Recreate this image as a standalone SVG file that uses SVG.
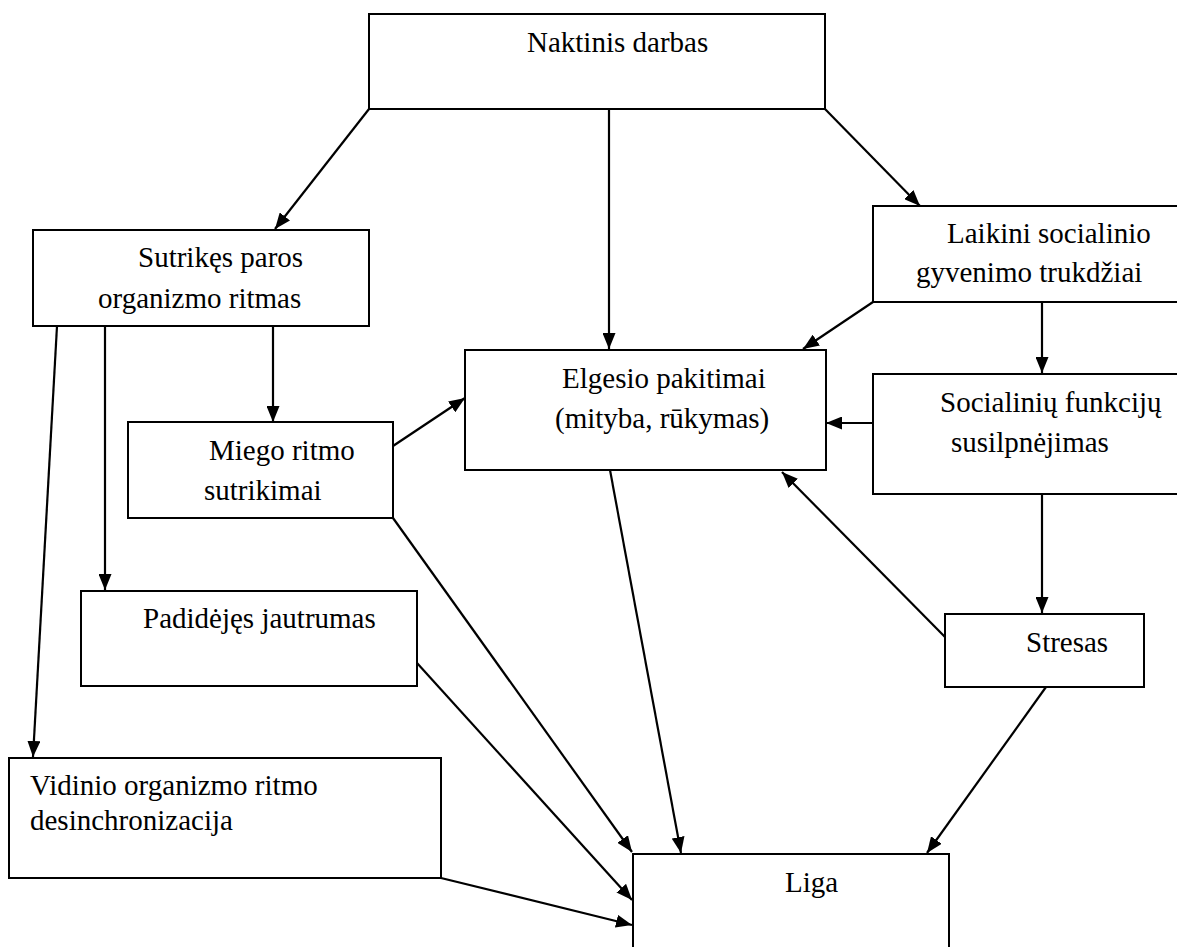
<svg xmlns="http://www.w3.org/2000/svg" width="1177" height="947" viewBox="0 0 1177 947">
<style>
.box{fill:#fff;stroke:#000;stroke-width:2}
.t{font-family:"Liberation Serif","Times New Roman",serif;font-size:29px;fill:#000}
.c{fill:none;stroke:#000;stroke-width:2.2}
</style>
<defs>
<marker id="ah" markerUnits="userSpaceOnUse" viewBox="0 0 16 13" markerWidth="16" markerHeight="13" refX="16" refY="6.5" orient="auto">
<path d="M0,0 L16,6.5 L0,13 z" fill="#000"/>
</marker>
</defs>
<rect width="1177" height="947" fill="#fff"/>
<g id="connectors">
<line class="c" x1="369" y1="109" x2="275" y2="229" marker-end="url(#ah)"/>
<line class="c" x1="609" y1="109" x2="609" y2="349" marker-end="url(#ah)"/>
<line class="c" x1="825" y1="109" x2="920" y2="206" marker-end="url(#ah)"/>
<line class="c" x1="57" y1="326" x2="33" y2="757" marker-end="url(#ah)"/>
<line class="c" x1="105" y1="326" x2="105" y2="590" marker-end="url(#ah)"/>
<line class="c" x1="273" y1="326" x2="273" y2="422" marker-end="url(#ah)"/>
<line class="c" x1="393" y1="446" x2="465" y2="398" marker-end="url(#ah)"/>
<line class="c" x1="393" y1="518" x2="632" y2="852" marker-end="url(#ah)"/>
<line class="c" x1="873" y1="302" x2="803" y2="349" marker-end="url(#ah)"/>
<line class="c" x1="1042" y1="302" x2="1042" y2="373" marker-end="url(#ah)"/>
<line class="c" x1="873" y1="423" x2="826" y2="423" marker-end="url(#ah)"/>
<line class="c" x1="1042" y1="494" x2="1042" y2="613" marker-end="url(#ah)"/>
<line class="c" x1="945" y1="637" x2="782" y2="472" marker-end="url(#ah)"/>
<line class="c" x1="610" y1="470" x2="681" y2="853" marker-end="url(#ah)"/>
<line class="c" x1="417" y1="663" x2="632" y2="900" marker-end="url(#ah)"/>
<line class="c" x1="441" y1="878" x2="632" y2="925" marker-end="url(#ah)"/>
<line class="c" x1="1046" y1="687" x2="927" y2="853" marker-end="url(#ah)"/>
</g>
<g id="naktinis">
<rect class="box" x="369" y="14" width="456" height="95"/>
<text class="t" x="527" y="52">Naktinis darbas</text>
</g>
<g id="sutrikes">
<rect class="box" x="33" y="230" width="336" height="96"/>
<text class="t" x="138" y="267">Sutrikęs paros</text>
<text class="t" x="98" y="308">organizmo ritmas</text>
</g>
<g id="laikini">
<rect class="box" x="873" y="206" width="310" height="96"/>
<text class="t" x="947" y="243">Laikini socialinio</text>
<text class="t" x="916" y="282">gyvenimo trukdžiai</text>
</g>
<g id="elgesio">
<rect class="box" x="465" y="350" width="361" height="120"/>
<text class="t" x="562" y="388">Elgesio pakitimai</text>
<text class="t" x="555" y="428">(mityba, rūkymas)</text>
</g>
<g id="miego">
<rect class="box" x="128" y="422" width="265" height="96"/>
<text class="t" x="209" y="460">Miego ritmo</text>
<text class="t" x="204" y="500">sutrikimai</text>
</g>
<g id="socialiniu">
<rect class="box" x="873" y="374" width="310" height="120"/>
<text class="t" x="940" y="412">Socialinių funkcijų</text>
<text class="t" x="951" y="452">susilpnėjimas</text>
</g>
<g id="padidejes">
<rect class="box" x="81" y="591" width="336" height="95"/>
<text class="t" x="143" y="628">Padidėjęs jautrumas</text>
</g>
<g id="stresas">
<rect class="box" x="945" y="614" width="199" height="73"/>
<text class="t" x="1026" y="652">Stresas</text>
</g>
<g id="vidinio">
<rect class="box" x="9" y="758" width="432" height="120"/>
<text class="t" x="30" y="795">Vidinio organizmo ritmo</text>
<text class="t" x="30" y="830">desinchronizacija</text>
</g>
<g id="liga">
<rect class="box" x="633" y="854" width="316" height="110"/>
<text class="t" x="785" y="892">Liga</text>
</g>
</svg>
